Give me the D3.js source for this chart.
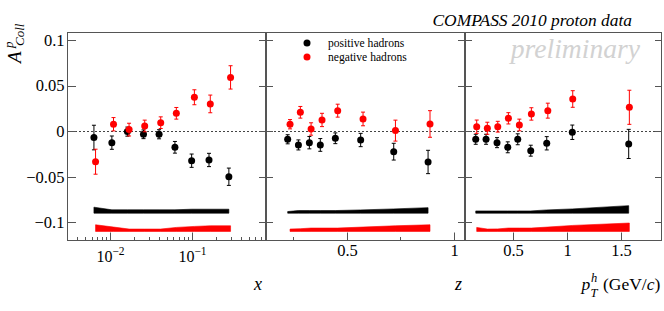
<!DOCTYPE html>
<html>
<head>
<meta charset="utf-8">
<script src="https://cdn.jsdelivr.net/npm/d3@7"></script>
<style>
  html, body { margin: 0; padding: 0; background: #fff; }
  svg { display: block; }
  text { font-family: "Liberation Serif", "Times New Roman", serif; }
</style>
</head>
<body>
<script>
// ---------- DATA ----------
const yTicks = [-0.1, -0.05, 0, 0.05, 0.1];
const yTickLabels = ["\u22120.1", "\u22120.05", "0", "0.05", "0.1"];

// panel 1 : x (Bjorken)
const x_pos   = [0.0064, 0.0106, 0.0164, 0.0258, 0.040, 0.0625, 0.100, 0.163, 0.285];
const a_x_pos = [-0.0070, -0.0126, -0.0005, -0.0034, -0.0034, -0.0177, -0.0324, -0.0316, -0.0500];
const e_x_pos = [0.0135, 0.0073, 0.0050, 0.0048, 0.0050, 0.0064, 0.0073, 0.0073, 0.0095];
const s_x_pos = [0.0066, 0.0037, 0.0037, 0.0037, 0.0037, 0.0037, 0.0044, 0.0044, 0.0044];
const x_neg   = [0.0067, 0.0111, 0.0172, 0.0267, 0.0419, 0.065, 0.108, 0.169, 0.299];
const a_x_neg = [-0.0335, 0.0076, 0.0017, 0.0057, 0.0093, 0.0196, 0.0372, 0.0299, 0.0590];
const e_x_neg = [0.0137, 0.0073, 0.0070, 0.0064, 0.0064, 0.0064, 0.0082, 0.0097, 0.0128];
const s_x_neg = [0.0073, 0.0048, 0.0026, 0.0026, 0.0026, 0.0044, 0.0055, 0.0062, 0.0062];

// panel 2 : z
const z_pos   = [0.225, 0.275, 0.326, 0.377, 0.447, 0.565, 0.719, 0.879];
const a_z_pos = [-0.0089, -0.0151, -0.0126, -0.0151, -0.0078, -0.0097, -0.0225, -0.0338];
const e_z_pos = [0.0050, 0.0055, 0.0068, 0.0070, 0.0059, 0.0073, 0.0092, 0.0128];
const s_z_pos = [0.0018, 0.0029, 0.0029, 0.0029, 0.0029, 0.0036, 0.0047, 0.0061];
const z_neg   = [0.236, 0.284, 0.334, 0.385, 0.458, 0.576, 0.727, 0.888];
const a_z_neg = [0.0076, 0.0207, 0.0024, 0.0123, 0.0225, 0.0134, 0.0006, 0.0079];
const e_z_neg = [0.0051, 0.0064, 0.0068, 0.0073, 0.0071, 0.0075, 0.0115, 0.0146];
const s_z_neg = [0.0026, 0.0030, 0.0037, 0.0037, 0.0037, 0.0048, 0.0062, 0.0073];

// panel 3 : pT
const pt_pos   = [0.151, 0.247, 0.349, 0.449, 0.542, 0.663, 0.812, 1.050, 1.575];
const a_pt_pos = [-0.0089, -0.0089, -0.0126, -0.0177, -0.0089, -0.0214, -0.0133, -0.0012, -0.0140];
const e_pt_pos = [0.0055, 0.0055, 0.0055, 0.0060, 0.0060, 0.0060, 0.0073, 0.0079, 0.0160];
const s_pt_pos = [0.0025, 0.0025, 0.0025, 0.0025, 0.0025, 0.0025, 0.0036, 0.0047, 0.0083];
const pt_neg   = [0.160, 0.259, 0.356, 0.455, 0.557, 0.669, 0.822, 1.054, 1.581];
const a_pt_neg = [0.0049, 0.0032, 0.0049, 0.0141, 0.0068, 0.0189, 0.0225, 0.0353, 0.0262];
const e_pt_neg = [0.0073, 0.0066, 0.0059, 0.0062, 0.0064, 0.0068, 0.0082, 0.0091, 0.0187];
const s_pt_neg = [0.0044, 0.0026, 0.0028, 0.0037, 0.0037, 0.0037, 0.0048, 0.0066, 0.0092];

const sysBasePos = -0.09;
const sysBaseNeg = -0.11;

const zTicksMajor = [0.5, 1];
const zTicksMinor = [0.25, 0.75];
const ptTicksMajor = [0.5, 1, 1.5];
const legendLabels = ["positive hadrons", "negative hadrons"];

// ---------- LAYOUT ----------
const W = 664, H = 311;
const topY = 32, bottomY = 241;
const svg = d3.select("body").append("svg").attr("width", W).attr("height", H)
  .attr("font-family", "'Liberation Serif', 'Times New Roman', serif");
svg.append("rect").attr("width", W).attr("height", H).attr("fill", "#fff");

const y = d3.scaleLinear().domain([-0.1205, 0.1088]).range([bottomY, topY]);

function mk(xs, as, es, ss) { return xs.map((v, i) => ({x: v, a: as[i], e: es[i], s: ss[i]})); }

const logMinor = [];
[0.001, 0.01, 0.1].forEach(d => { for (let k = 2; k <= 9; k++) logMinor.push(k * d); });

const panels = [
  { x0: 67, x1: 266, sc: d3.scaleLog().domain([0.003, 0.81]),
    pos: mk(x_pos, a_x_pos, e_x_pos, s_x_pos), neg: mk(x_neg, a_x_neg, e_x_neg, s_x_neg),
    major: [0.01, 0.1], minor: logMinor, log: true },
  { x0: 266, x1: 465, sc: d3.scaleLinear().domain([0.124, 1.051]),
    pos: mk(z_pos, a_z_pos, e_z_pos, s_z_pos), neg: mk(z_neg, a_z_neg, e_z_neg, s_z_neg),
    major: zTicksMajor, minor: zTicksMinor },
  { x0: 465, x1: 662, sc: d3.scaleLinear().domain([0.051, 1.885]),
    pos: mk(pt_pos, a_pt_pos, e_pt_pos, s_pt_pos), neg: mk(pt_neg, a_pt_neg, e_pt_neg, s_pt_neg),
    major: ptTicksMajor, minor: [] }
];

const frameCol = "#555";

panels.forEach((p, pi) => {
  p.sc.range([p.x0, p.x1]);
  const g = svg.append("g");
  const xs = p.sc;
  const inDom = v => xs(v) > p.x0 + 0.5 && xs(v) < p.x1 - 0.5;

  // zero line
  g.append("line").attr("x1", p.x0).attr("x2", p.x1)
    .attr("y1", Math.round(y(0)) + 0.5).attr("y2", Math.round(y(0)) + 0.5)
    .attr("stroke", "#444").attr("stroke-width", 1).attr("stroke-dasharray", "2,2");

  // systematic bands
  const band = (data, base, col) => {
    const area = d3.area().x(d => xs(d.x)).y0(y(base)).y1(d => y(base + d.s));
    g.append("path").datum(data).attr("d", area).attr("fill", col).attr("stroke", col).attr("stroke-width", 0.6);
  };
  band(p.pos, sysBasePos, "#000");
  band(p.neg, sysBaseNeg, "#ff0000");

  // points with error bars
  const pts = (data, col) => {
    const gg = g.append("g").attr("stroke", col).attr("fill", col);
    data.forEach(d => {
      const cx = xs(d.x), y1 = y(d.a + d.e), y2 = y(d.a - d.e);
      gg.append("line").attr("x1", cx).attr("x2", cx).attr("y1", y1).attr("y2", y2).attr("stroke-width", 1);
      gg.append("line").attr("x1", cx - 2).attr("x2", cx + 2).attr("y1", y1).attr("y2", y1).attr("stroke-width", 1);
      gg.append("line").attr("x1", cx - 2).attr("x2", cx + 2).attr("y1", y2).attr("y2", y2).attr("stroke-width", 1);
      gg.append("circle").attr("cx", cx).attr("cy", y(d.a)).attr("r", 3.5).attr("stroke", "none");
    });
  };
  pts(p.pos, "#000");
  pts(p.neg, "#ff0000");

  // frame
  g.append("rect").attr("x", p.x0 + 0.5).attr("y", topY + 0.5)
    .attr("width", p.x1 - p.x0 - 1).attr("height", bottomY - topY - 1)
    .attr("fill", "none").attr("stroke", frameCol).attr("stroke-width", 1);

  // y ticks (both sides, inward)
  yTicks.forEach(t => {
    const yy = Math.round(y(t)) + 0.5;
    g.append("line").attr("x1", p.x0).attr("x2", p.x0 + (pi === 0 ? 9 : 7)).attr("y1", yy).attr("y2", yy)
      .attr("stroke", frameCol);
    g.append("line").attr("x1", p.x1).attr("x2", p.x1 - 7).attr("y1", yy).attr("y2", yy)
      .attr("stroke", frameCol);
  });

  // x ticks
  p.major.filter(inDom).forEach(t => {
    const xx = Math.round(xs(t)) + 0.5;
    g.append("line").attr("x1", xx).attr("x2", xx).attr("y1", bottomY).attr("y2", bottomY - 8.5).attr("stroke", frameCol);
    if (p.log) {
      const e = Math.round(Math.log10(t));
      const tx = g.append("text").attr("x", xx).attr("y", 261.5).attr("text-anchor", "middle")
        .attr("font-size", 16).attr("fill", "#000");
      tx.append("tspan").text("10");
      tx.append("tspan").attr("font-size", 11.5).attr("dy", -7).text("\u2212" + Math.abs(e));
    } else {
      g.append("text").attr("x", xx).attr("y", 256).attr("text-anchor", "middle")
        .attr("font-size", 16.5).attr("fill", "#000").text(d3.format("")(t));
    }
  });
  p.minor.filter(inDom).forEach(t => {
    const xx = Math.round(xs(t)) + 0.5;
    g.append("line").attr("x1", xx).attr("x2", xx).attr("y1", bottomY).attr("y2", bottomY - 4).attr("stroke", frameCol);
  });
});

// y tick labels
yTicks.forEach((t, i) => {
  svg.append("text").attr("x", 64.5).attr("y", y(t)).attr("dy", "0.35em")
    .attr("text-anchor", "end").attr("font-size", 16.5).attr("fill", "#000").text(yTickLabels[i]);
});

// y title A^p_Coll
const yt = svg.append("g").attr("transform", "translate(21,63) rotate(-90)");
yt.append("text").attr("x", 0).attr("y", 0).attr("font-size", 19).attr("font-style", "italic").text("A");
yt.append("text").attr("x", 15).attr("y", -8).attr("font-size", 13).attr("font-style", "italic").text("p");
yt.append("text").attr("x", 17).attr("y", 2.5).attr("font-size", 13).attr("font-style", "italic").text("Coll");

// axis titles
svg.append("text").attr("x", 262).attr("y", 290).attr("text-anchor", "end")
  .attr("font-size", 18).attr("font-style", "italic").text("x");
svg.append("text").attr("x", 462).attr("y", 290).attr("text-anchor", "end")
  .attr("font-size", 18).attr("font-style", "italic").text("z");
const pt = svg.append("text").attr("x", 581.5).attr("y", 290).attr("font-size", 17.5);
pt.append("tspan").attr("font-style", "italic").text("p");
pt.append("tspan").attr("x", 591).attr("dy", -8).attr("font-size", 12.5).attr("font-style", "italic").text("h");
pt.append("tspan").attr("x", 590.5).attr("dy", 15).attr("font-size", 12.5).attr("font-style", "italic").text("T");
pt.append("tspan").attr("x", 603).attr("dy", -7).text("(GeV/");
pt.append("tspan").attr("font-style", "italic").text("c");
pt.append("tspan").text(")");

// title
svg.append("text").attr("x", 632).attr("y", 26).attr("text-anchor", "end")
  .attr("font-size", 17.4).attr("font-style", "italic").text("COMPASS 2010 proton data");
svg.append("text").attr("x", 640).attr("y", 58).attr("text-anchor", "end")
  .attr("font-size", 27.6).attr("font-style", "italic").attr("fill", "#d2d2d2").text("preliminary");

// legend
const legCols = ["#000", "#ff0000"];
legendLabels.forEach((l, i) => {
  svg.append("circle").attr("cx", 307).attr("cy", 43 + i * 14).attr("r", 3.5).attr("fill", legCols[i]);
  svg.append("text").attr("x", 328).attr("y", 47 + i * 14).attr("font-size", 11.6).text(l);
});
</script>
</body>
</html>
